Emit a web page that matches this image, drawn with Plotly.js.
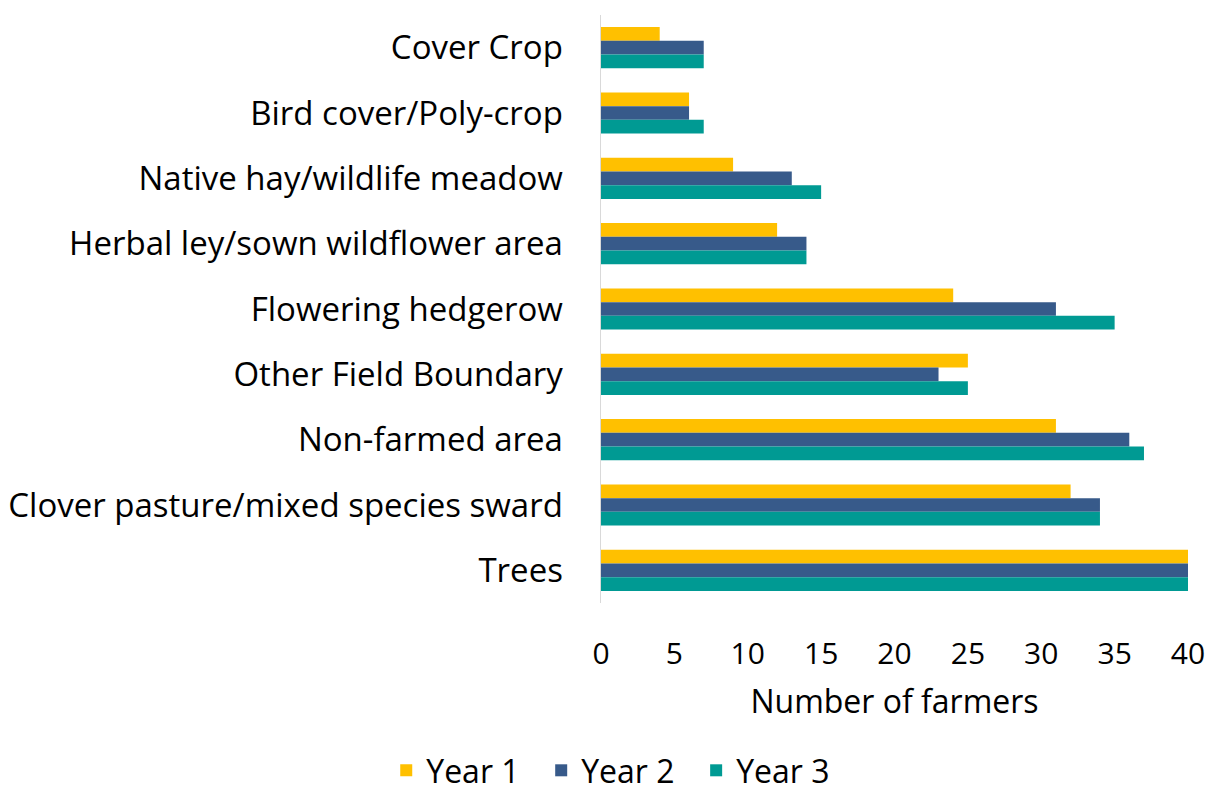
<!DOCTYPE html>
<html>
<head>
<meta charset="utf-8">
<script src="https://cdn.plot.ly/plotly-3.0.1.min.js"></script>
<style>html,body{margin:0;padding:0;background:#fff;}#chart{width:1207px;height:798px;}</style>
</head>
<body>
<div id="chart"></div>
<script>
const categories = ["Cover Crop", "Bird cover/Poly-crop", "Native hay/wildlife meadow", "Herbal ley/sown wildflower area", "Flowering hedgerow", "Other Field Boundary", "Non-farmed area", "Clover pasture/mixed species sward", "Trees"];
const year1 = [4, 6, 9, 12, 24, 25, 31, 32, 40];
const year2 = [7, 6, 13, 14, 31, 23, 36, 34, 40];
const year3 = [7, 7, 15, 14, 35, 25, 37, 34, 40];
const seriesNames = ["Year 1", "Year 2", "Year 3"];
const colors = ["#FFC000", "#375A8A", "#009A93"];
const xTicks = [0, 5, 10, 15, 20, 25, 30, 35, 40];

const FONT = "Open Sans, sans-serif";
const NBSP = "\u00A0\u00A0";
const data = [year1, year2, year3].map((vals, i) => ({
  type: "bar",
  orientation: "h",
  name: seriesNames[i] + (i < 2 ? NBSP : ""),
  y: categories,
  x: vals,
  marker: {color: colors[i], line: {width: 0}},
  hoverinfo: "x+y"
}));

const layout = {
  width: 1207, height: 798,
  paper_bgcolor: "#fff", plot_bgcolor: "#fff",
  margin: {l: 601, r: 19, t: 15, b: 195},
  barmode: "group",
  bargap: 0.37,
  bargroupgap: 0,
  font: {family: FONT, size: 33, color: "#000"},
  xaxis: {
    range: [0, 40],
    tickvals: xTicks,
    ticktext: xTicks.map(String),
    showgrid: false, zeroline: false, showline: false,
    ticks: "outside", ticklen: 24, tickcolor: "rgba(0,0,0,0)",
    tickfont: {family: FONT, size: 30, color: "#000"},
    title: {text: "Number of farmers", font: {family: FONT, size: 32, color: "#000"}, standoff: 18}
  },
  yaxis: {
    autorange: "reversed",
    type: "category",
    showgrid: false, zeroline: false,
    showline: true, linecolor: "#D9D9D9", linewidth: 1.5,
    ticks: "outside", ticklen: 30, tickcolor: "rgba(0,0,0,0)",
    tickfont: {family: FONT, size: 33, color: "#000"}
  },
  legend: {
    orientation: "h",
    xref: "container", yref: "container",
    x: 0.506, xanchor: "center",
    y: 0, yanchor: "bottom",
    font: {family: FONT, size: 32, color: "#000"},
    traceorder: "normal"
  },
  showlegend: true
};

Plotly.newPlot("chart", data, layout, {displayModeBar: false, staticPlot: true});
</script>
</body>
</html>
